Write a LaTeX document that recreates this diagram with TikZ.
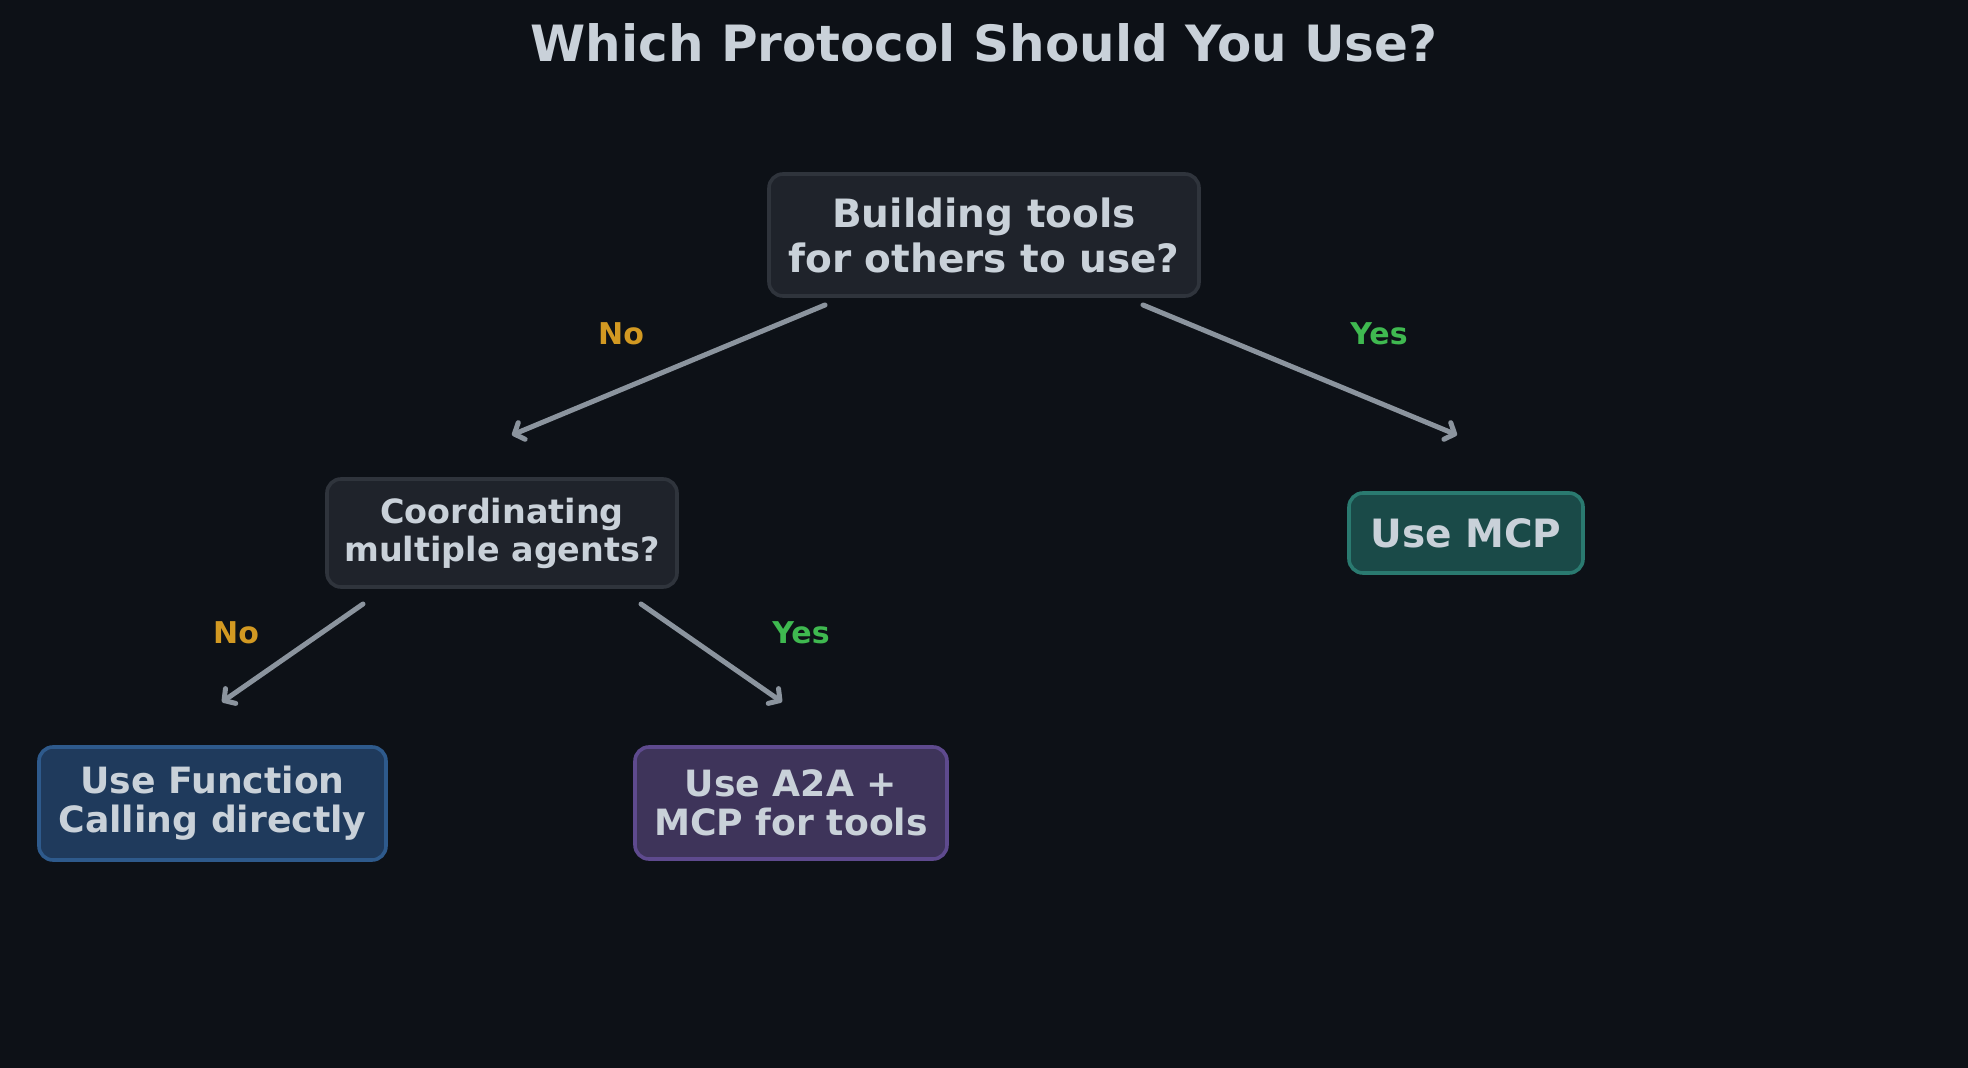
\documentclass[tikz,border=0pt]{standalone}
\usepackage{fontspec}
\setmainfont{DejaVu Sans}
\usetikzlibrary{arrows.meta}
\definecolor{bg}{HTML}{0D1117}
\definecolor{txt}{HTML}{C9D1D9}
\definecolor{qfill}{HTML}{1F232B}
\definecolor{qdraw}{HTML}{2F343C}
\definecolor{bfill}{HTML}{1F3A5C}
\definecolor{bdraw}{HTML}{2E5A8C}
\definecolor{pfill}{HTML}{3E345A}
\definecolor{pdraw}{HTML}{5E4A8E}
\definecolor{tfill}{HTML}{1A4A48}
\definecolor{tdraw}{HTML}{2A7A70}
\definecolor{arr}{HTML}{8B949E}
\definecolor{nocol}{HTML}{D29922}
\definecolor{yescol}{HTML}{3FB950}
\tikzset{
  box/.style={rounded corners=7pt, line width=1.8pt, align=center, inner sep=0pt, text=txt, font=\bfseries},
  qbox/.style={box, fill=qfill, draw=qdraw},
  bbox/.style={box, fill=bfill, draw=bdraw},
  pbox/.style={box, fill=pfill, draw=pdraw},
  tbox/.style={box, fill=tfill, draw=tdraw},
  conn/.style={draw=arr, line width=2.5pt, line cap=round, -{Straight Barb[length=4pt,width=9pt,line cap=round,line join=round]}},
  lbl/.style={font=\bfseries\fontsize{15}{18}\selectfont, inner sep=0pt},
}
\begin{document}
\begin{tikzpicture}[x=0.5pt,y=-0.5pt]
\fill[bg] (0,0) rectangle (1968,1068);
\useasboundingbox (0,0) rectangle (1968,1068);
\node[text=txt, font=\bfseries\fontsize{25}{30}\selectfont] (title) at (984,43) {Which Protocol Should You Use?};
\node[qbox, minimum width=215pt, minimum height=61pt, font=\bfseries\fontsize{19.5}{22.5}\selectfont] (q1) at (984,235) {Building tools\\for others to use?};
\node[qbox, minimum width=175pt, minimum height=54pt, font=\bfseries\fontsize{16.7}{19}\selectfont] (q2) at (502,533) {Coordinating\\multiple agents?};
\node[tbox, minimum width=117pt, minimum height=40pt, font=\bfseries\fontsize{19.5}{22}\selectfont] (mcp) at (1466,533) {Use MCP};
\node[bbox, minimum width=173.5pt, minimum height=56.5pt, font=\bfseries\fontsize{18.1}{19.6}\selectfont] (fc) at (212.5,803.5) {Use Function\\Calling directly};
\node[pbox, minimum width=156pt, minimum height=56pt, font=\bfseries\fontsize{18.1}{19.6}\selectfont] (a2a) at (791,803) {Use A2A +\\MCP for tools};
\coordinate (s1) at (825,305);
\coordinate (e1) at (512,435);
\coordinate (s2) at (1143,305);
\coordinate (e2) at (1457,435);
\coordinate (s3) at (363,604);
\coordinate (e3) at (222,702);
\coordinate (s4) at (641,604);
\coordinate (e4) at (782,702);
\draw[conn] (s1) -- (e1);
\draw[conn] (s2) -- (e2);
\draw[conn] (s3) -- (e3);
\draw[conn] (s4) -- (e4);
\node[lbl, text=nocol] (l1) at (621,334) {No};
\node[lbl, text=yescol] (l2) at (1379,334) {Yes};
\node[lbl, text=nocol] (l3) at (236,633) {No};
\node[lbl, text=yescol] (l4) at (801,633) {Yes};
\end{tikzpicture}
\end{document}
